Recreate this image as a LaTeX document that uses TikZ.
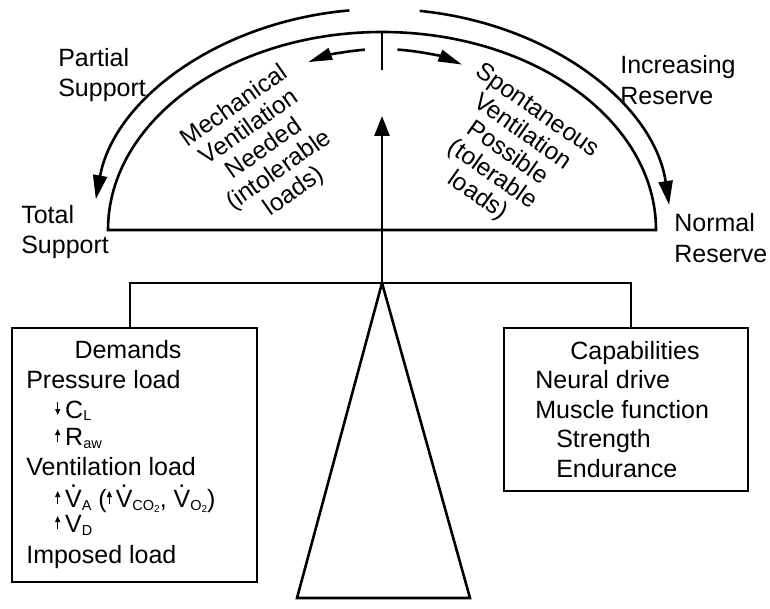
\documentclass[tikz,border=0pt]{standalone}
\usepackage{fontspec}
\setmainfont{Liberation Sans}
\usetikzlibrary{arrows.meta,calc}
\newcommand\uarr{\tikz[baseline=0pt]\draw[line width=1.1pt,-{Triangle[length=6pt,width=5pt]}] (0pt,3pt)--(0pt,16pt);}
\newcommand\darr{\tikz[baseline=0pt]\draw[line width=1.1pt,-{Triangle[length=6pt,width=5pt]}] (0pt,16pt)--(0pt,3pt);}
\newcommand\sbs[1]{\raisebox{-3pt}{\fontsize{14.5}{14.5}\selectfont #1}}
\newcommand\sbb[1]{\raisebox{-2.5pt}{\fontsize{10}{10}\selectfont #1}}
\newcommand\Vdot{\makebox[0pt][l]{\kern4.8pt\raisebox{20pt}{.}}V}
\begin{document}
\begin{tikzpicture}[x=1pt,y=1pt,line width=2.6pt,
  txt/.style={inner sep=0pt,font=\fontsize{25}{29.5}\selectfont},
  rot/.style={inner sep=0pt,align=center,font=\fontsize{24.5}{26}\selectfont},
  box/.style={draw,rectangle,inner sep=0pt},
  bigarr/.style={-{Triangle[length=24pt,width=14pt]}},
  smallarr/.style={-{Triangle[length=24pt,width=12pt]}},
  uparr/.style={-{Triangle[length=20pt,width=15pt]}}]
\useasboundingbox (0,0) rectangle (770,608);
% dome
\coordinate (C) at (382,378);
\coordinate (domeL) at (108,378);
\coordinate (domeR) at (656,378);
\draw (domeR) arc[start angle=0,end angle=180,x radius=274pt,y radius=198pt] -- cycle;
\coordinate (tickT) at (382,576);
\coordinate (tickB) at (382,538);
\draw (tickT) -- (tickB);
% outer arcs
\draw[bigarr] ($(C)+(96.5:289pt and 221pt)$) arc[start angle=96.5,end angle=172,x radius=289pt,y radius=221pt];
\draw[bigarr] ($(C)+(82.5:289pt and 221pt)$) arc[start angle=82.5,end angle=6.5,x radius=289pt,y radius=221pt];
% inner arrows
\draw[smallarr] ($(C)+(95:197pt and 181pt)$) arc[start angle=95,end angle=112,x radius=197pt,y radius=181pt];
\draw[smallarr] ($(C)+(85.5:197pt and 181pt)$) arc[start angle=85.5,end angle=66,x radius=197pt,y radius=181pt];
% beam and fulcrum
\coordinate (apex) at (382,325);
\coordinate (bl) at (130,325);
\coordinate (br) at (631,325);
\coordinate (tipU) at (382,492);
\coordinate (triL) at (297,10);
\coordinate (triR) at (470,10);
\draw[uparr] (apex) -- (tipU);
\draw[line join=miter] (apex) -- (triL) -- (triR) -- cycle;
% boxes
\node[box,minimum width=245pt,minimum height=254pt] (dem) at (134.5,153) {};
\node[box,minimum width=244pt,minimum height=163pt] (cap) at (626,198.5) {};
\draw (dem.north -| bl) -- (bl) -- (br) -- (cap.north -| br);
% demands text
\node[txt,anchor=base] (d0) at (128,250) {Demands};
\node[txt,anchor=base west] (d1) at (25,220) {Pressure load};
\node[txt,anchor=base west] (d2) at (55,190) {\darr\hspace{5pt}C\sbs{L}};
\node[txt,anchor=base west] (d3) at (55,163) {\uarr\hspace{5pt}R\sbs{aw}};
\node[txt,anchor=base west] (d4) at (25,133) {Ventilation load};
\node[txt,anchor=base west] (d5) at (55,101) {\uarr\hspace{5pt}\Vdot\sbs{A} (\uarr\hspace{4pt}\Vdot\sbs{CO\sbb{2}}, \Vdot\sbs{O\sbb{2}})};
\node[txt,anchor=base west] (d6) at (55,76) {\uarr\hspace{5pt}V\sbs{D}};
\node[txt,anchor=base west] (d7) at (25,45) {Imposed load};
% capabilities text
\node[txt,anchor=base west] (c0) at (569,248) {Capabilities};
\node[txt,anchor=base west] (c1) at (534,219) {Neural drive};
\node[txt,anchor=base west] (c2) at (534,190) {Muscle function};
\node[txt,anchor=base west] (c3) at (555,161) {Strength};
\node[txt,anchor=base west] (c4) at (555,131) {Endurance};
% outside labels
\node[txt,anchor=base west] (ps1) at (57,541) {Partial};
\node[txt,anchor=base west] (ps2) at (57,511) {Support};
\node[txt,anchor=base west] (ts1) at (20,384) {Total};
\node[txt,anchor=base west] (ts2) at (20,354) {Support};
\node[txt,anchor=base west] (ir1) at (619,534) {Increasing};
\node[txt,anchor=base west] (ir2) at (619,503) {Reserve};
\node[txt,anchor=base west] (nr1) at (673,376) {Normal};
\node[txt,anchor=base west] (nr2) at (673,345) {Reserve};
% rotated texts
\node[rot,rotate=35] (mv) at (264.5,458.5) {Mechanical\\Ventilation\\Needed\\(intolerable\\loads)};
\node[rot,rotate=-35] (sv) at (507,454) {Spontaneous\\Ventilation\\Possible\\(tolerable\\loads)};
\end{tikzpicture}
\end{document}
